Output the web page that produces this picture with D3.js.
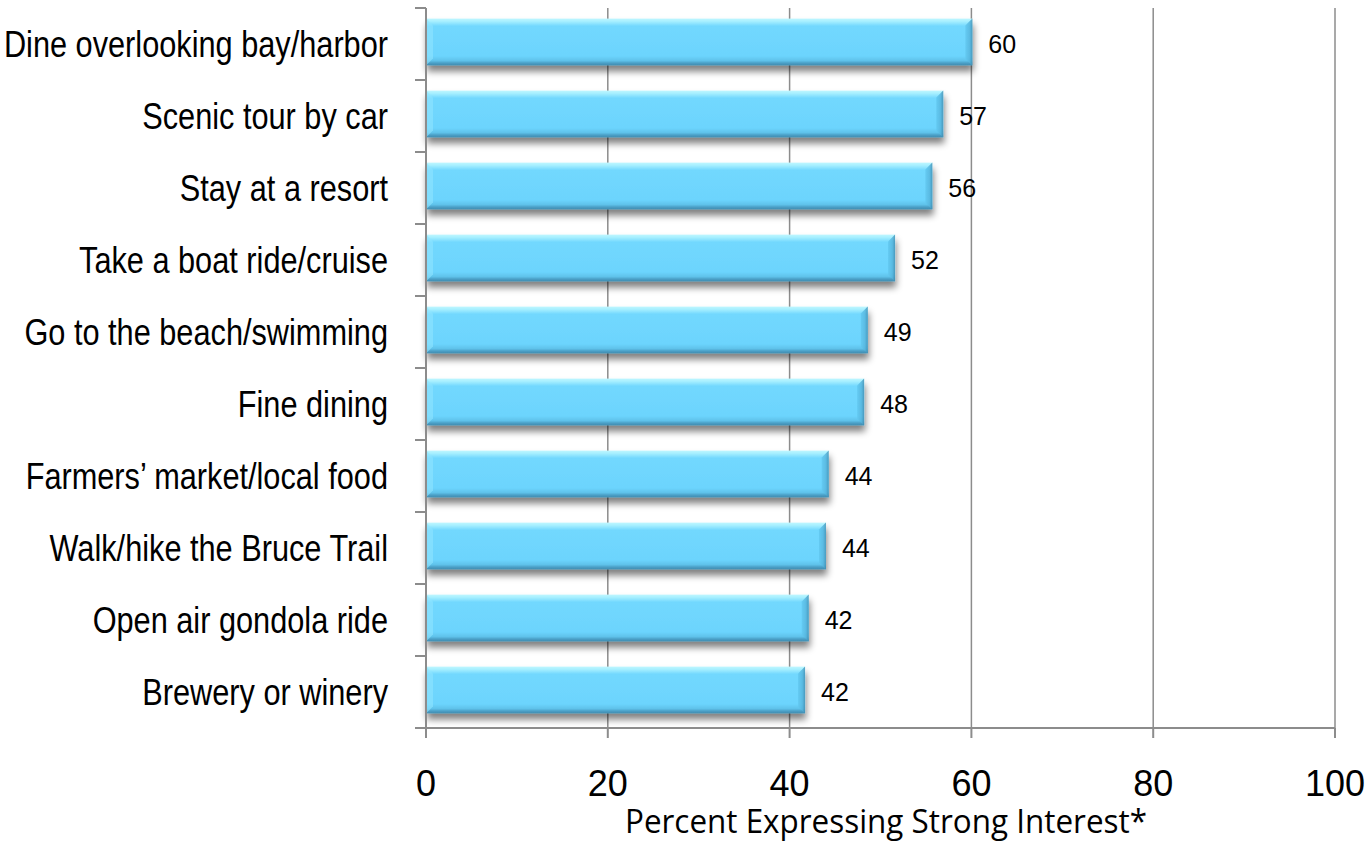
<!DOCTYPE html>
<html>
<head>
<meta charset="utf-8">
<script src="https://cdn.jsdelivr.net/npm/d3@7"></script>
<style>
  body { margin: 0; background: #fff; }
  svg { display: block; }
</style>
</head>
<body>
<div id="chart"></div>
<script>
const categories = [
  "Dine overlooking bay/harbor",
  "Scenic tour by car",
  "Stay at a resort",
  "Take a boat ride/cruise",
  "Go to the beach/swimming",
  "Fine dining",
  "Farmers\u2019 market/local food",
  "Walk/hike the Bruce Trail",
  "Open air gondola ride",
  "Brewery or winery"
];
const values = [60.1, 56.9, 55.7, 51.6, 48.6, 48.2, 44.3, 44.0, 42.1, 41.7];
const valueLabels = ["60", "57", "56", "52", "49", "48", "44", "44", "42", "42"];
const xTicks = [0, 20, 40, 60, 80, 100];
const xTitle = "Percent Expressing Strong Interest*";

const W = 1371, H = 842;
const margin = { top: 8, right: 36, bottom: 114, left: 426 };
const width = W - margin.left - margin.right;
const height = H - margin.top - margin.bottom;

const svg = d3.select("#chart").append("svg")
  .attr("width", W)
  .attr("height", H);

const defs = svg.append("defs");

const grad = defs.append("linearGradient")
  .attr("id", "barGrad")
  .attr("x1", 0).attr("y1", 0).attr("x2", 0).attr("y2", 1);
[[0, "#bff7ff"], [0.06, "#a6efff"], [0.16, "#72d8fe"], [0.8, "#6cd4fd"], [0.9, "#5fc2ea"], [0.95, "#4b9fc6"], [1, "#3f8cb0"]]
  .forEach(([o, c]) => grad.append("stop").attr("offset", o).attr("stop-color", c));

const endGrad = defs.append("linearGradient")
  .attr("id", "endGrad")
  .attr("x1", 0).attr("y1", 0).attr("x2", 1).attr("y2", 0);
[[0, "#62c8f0"], [0.6, "#55b4dc"], [1, "#3f8cb0"]]
  .forEach(([o, c]) => endGrad.append("stop").attr("offset", o).attr("stop-color", c));

const shadow = defs.append("filter")
  .attr("id", "shadow")
  .attr("x", "-5%").attr("y", "-20%").attr("width", "110%").attr("height", "170%");
shadow.append("feGaussianBlur").attr("in", "SourceAlpha").attr("stdDeviation", 3.5);
shadow.append("feOffset").attr("dx", 1).attr("dy", 6).attr("result", "blur");
shadow.append("feComponentTransfer").append("feFuncA").attr("type", "linear").attr("slope", 0.5);
const merge = shadow.append("feMerge");
merge.append("feMergeNode");
merge.append("feMergeNode").attr("in", "SourceGraphic");

const g = svg.append("g")
  .attr("transform", `translate(${margin.left},${margin.top})`);

const x = d3.scaleLinear().domain([0, 100]).range([0, width]);
const y = d3.scaleBand().domain(categories).range([0, height]).paddingInner(0.35).paddingOuter(0.175);

const grey = "#8c8c8c";
const arial = "Liberation Sans, Arial, sans-serif";

// vertical gridlines
g.selectAll(".grid")
  .data(xTicks.filter(d => d > 0))
  .join("line")
  .attr("x1", d => x(d)).attr("x2", d => x(d))
  .attr("y1", 0).attr("y2", height)
  .attr("stroke", grey)
  .attr("stroke-width", 1.5);

// bars
const bars = g.selectAll(".bar")
  .data(categories)
  .join("g")
  .attr("class", "bar")
  .attr("filter", "url(#shadow)");

bars.append("rect")
  .attr("x", x(0))
  .attr("y", d => y(d) - 2)
  .attr("width", (d, i) => x(values[i]) - x(0))
  .attr("height", y.bandwidth())
  .attr("fill", "url(#barGrad)");

// right end bevel
const bev = 7;
bars.append("path")
  .attr("d", (d, i) => {
    const xe = x(values[i]), y0 = y(d) - 2, y1 = y0 + y.bandwidth();
    return `M${xe - bev},${y0 + bev} L${xe},${y0} L${xe},${y1} L${xe - bev},${y1 - bev} Z`;
  })
  .attr("fill", "url(#endGrad)")
  .attr("opacity", 0.8);

// left bevel highlight
bars.append("path")
  .attr("d", (d) => {
    const y0 = y(d) - 2, y1 = y0 + y.bandwidth();
    return `M0,${y0} L${bev},${y0 + bev} L${bev},${y1 - bev} L0,${y1} Z`;
  })
  .attr("fill", "#8fe4ff")
  .attr("opacity", 0.6);

// value labels
g.selectAll(".val")
  .data(categories)
  .join("text")
  .attr("x", (d, i) => x(values[i]) + 16)
  .attr("y", d => y(d) + y.bandwidth() / 2 + 9)
  .attr("font-family", arial)
  .attr("font-size", 25)
  .attr("fill", "#000")
  .text((d, i) => valueLabels[i]);

// y axis (category)
g.append("line")
  .attr("x1", 0).attr("x2", 0).attr("y1", 0).attr("y2", height)
  .attr("stroke", grey).attr("stroke-width", 2);
const step = height / categories.length;
g.selectAll(".ytick")
  .data(d3.range(categories.length + 1))
  .join("line")
  .attr("x1", -11).attr("x2", 0)
  .attr("y1", d => d * step).attr("y2", d => d * step)
  .attr("stroke", grey).attr("stroke-width", 2);

// category labels: tall, condensed
g.selectAll(".cat")
  .data(categories)
  .join("text")
  .attr("transform", d => `translate(-38,${y(d) + y.bandwidth() / 2 + 13}) scale(0.83,1)`)
  .attr("text-anchor", "end")
  .attr("font-family", arial)
  .attr("font-size", 37)
  .attr("fill", "#000")
  .text(d => d);

// x axis
g.append("line")
  .attr("x1", 0).attr("x2", width).attr("y1", height).attr("y2", height)
  .attr("stroke", grey).attr("stroke-width", 2);
g.selectAll(".xtick")
  .data(xTicks)
  .join("line")
  .attr("x1", d => x(d)).attr("x2", d => x(d))
  .attr("y1", height).attr("y2", height + 10)
  .attr("stroke", grey).attr("stroke-width", 2);
g.selectAll(".xlab")
  .data(xTicks)
  .join("text")
  .attr("x", d => x(d))
  .attr("y", height + 68)
  .attr("text-anchor", "middle")
  .attr("font-family", arial)
  .attr("font-size", 36)
  .attr("fill", "#000")
  .text(d => d);

g.append("text")
  .attr("x", 625 - margin.left)
  .attr("y", height + 105)
  .attr("font-family", "Open Sans, sans-serif")
  .attr("font-size", 32)
  .attr("textLength", 522)
  .attr("lengthAdjust", "spacingAndGlyphs")
  .attr("fill", "#000")
  .text(xTitle);
</script>
</body>
</html>
